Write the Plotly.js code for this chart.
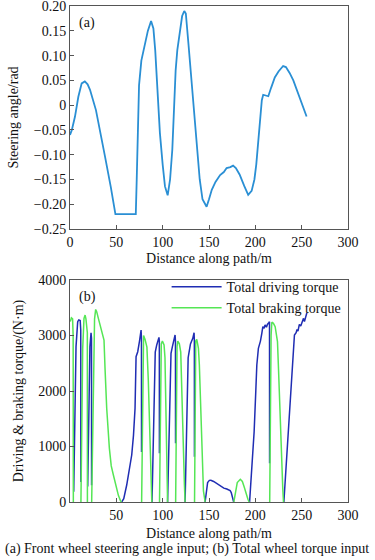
<!DOCTYPE html>
<html>
<head>
<meta charset="utf-8">
<script src="https://cdn.plot.ly/plotly-3.0.1.min.js"></script>
<style>html,body{margin:0;padding:0;background:#fff;}#chart{width:375px;height:560px;}</style>
</head>
<body>
<div id="chart"></div>
<script>
// (a) Front wheel steering angle vs distance
var distA = [0, 2, 5.4, 9, 12.6, 16, 19, 21.6, 28, 33, 37.8, 44, 49, 60, 71, 72, 73, 74.5, 77, 81, 84, 87.5, 90, 92, 94, 97, 100, 102.5, 105.4, 108, 110.4, 112.2, 114, 115.8, 119, 121, 123.3, 125, 128, 131, 133, 137, 140, 143, 147.4, 150, 153, 157, 162, 166, 169, 173, 176, 179, 183, 188, 192.3, 196, 199, 201, 203, 205, 207, 208.5, 211, 214, 217, 221, 225, 230, 233, 237, 241, 246, 251, 255.3];
var steerA = [-0.06, -0.05, -0.023, 0.017, 0.044, 0.048, 0.042, 0.031, -0.01, -0.055, -0.104, -0.165, -0.22, -0.22, -0.22, -0.15, -0.05, 0.04, 0.09, 0.125, 0.15, 0.17, 0.155, 0.11, 0.04, -0.056, -0.12, -0.164, -0.182, -0.15, -0.09, 0.01, 0.07, 0.111, 0.16, 0.18, 0.19, 0.185, 0.12, 0.05, 0.01, -0.085, -0.15, -0.19, -0.205, -0.19, -0.171, -0.155, -0.141, -0.135, -0.127, -0.125, -0.122, -0.127, -0.14, -0.163, -0.181, -0.173, -0.15, -0.12, -0.08, -0.03, 0.01, 0.021, 0.02, 0.018, 0.035, 0.056, 0.068, 0.079, 0.077, 0.065, 0.05, 0.025, 0.0, -0.023];

// (b) Total driving torque (null = gap)
var driveD = [4, 5.5, 6.5, 8.3, 9.5, 11, 11.6, 11.7, null,
  19.1, 20.5, 21.5, 22.7, 23.2, 23.3, null,
  55.8, 58, 61.2, 64, 66.6, 68.5, 70.2, 71.3, 73.1, 75, 76.7, 77.1, 77.2, null,
  88.5, 90, 91.5, 92, 93.6, 95, 96, 96.4, 96.5, null,
  105.3, 107, 108.5, 109, 110.5, 112.5, 113.4, 113.8, 113.9, null,
  124.2, 126, 127.5, 128.5, 130, 132.5, 133.9, 134.2, 134.3, null,
  145.8, 147, 148.5, 150.4, 152, 155, 158.4, 163, 166, 169.2, 171, 172.8, 174, 175.5, 176.6, null,
  193.8, 196, 198.7, 200.5, 201.6, 203.3, 205.5, 207, 208.1, 209.5, 210.5, 212, 213, 214.5, 215.3, 215.4, null,
  230.8, 233, 235.5, 237.6, 240, 242.2, 244, 245, 246, 247.5, 249, 250.5, 252, 253, 254.5, 255.6];
var driveT = [186, 1800, 2800, 3250, 3280, 3270, 3100, 360, null,
  280, 1800, 2800, 3050, 2950, 300, null,
  0, 60, 306, 560, 847, 1200, 1688, 2618, 2708, 2900, 3099, 2950, 900, null,
  0, 1200, 2500, 2700, 2830, 2900, 2967, 2900, 880, null,
  0, 1300, 2500, 2680, 2800, 2950, 3009, 2900, 1057, null,
  0, 1300, 2600, 2700, 2850, 2950, 3051, 2900, 817, null,
  0, 200, 350, 390, 392, 370, 336, 280, 250, 234, 222, 204, 170, 80, 0, null,
  0, 500, 1267, 2000, 2468, 2769, 2900, 3040, 3159, 3130, 3190, 3150, 3200, 3230, 3250, 700, null,
  0, 600, 1300, 1868, 2500, 3009, 3050, 3110, 3080, 3200, 3170, 3260, 3310, 3250, 3360, 3410];

// (b) Total braking torque (null = gap)
var brakeD = [0.3, 1.5, 2.8, 3.4, 3.6, null,
  11.8, 12.6, 13.7, 15.1, 16.3, 17.2, 18, 18.7, 18.8, null,
  23.4, 24.5, 25.5, 26.5, 27.7, 28.8, 30.6, 32.5, 34.2, 36.7, 37.8, 39.6, 42.5, 44.5, 46.8, 49.5, 52.2, 54.5, 55.5, null,
  77.3, 78.3, 79, 79.4, 81, 83, 84.5, 86, 87.3, 88.3, null,
  96.6, 97.5, 98.5, 99.7, 101.5, 102.5, 103.5, 104.5, 105.3, null,
  114, 114.8, 115.5, 116.3, 118, 119.5, 120.5, 122, 123.5, 124.2, null,
  134.4, 135.2, 135.7, 136.8, 138.6, 139.6, 141, 142.5, 144, 145.8, null,
  176.8, 178.5, 180.5, 183.8, 186, 188, 190, 192, 193.4, null,
  215.5, 216.3, 217, 217.8, 219.5, 221.4, 222.5, 223.9, 225, 226, 227.3, 228.6, 229.6, 230.4];
var brakeT = [3250, 3320, 3300, 3000, 0, null,
  0, 1267, 2769, 3309, 3369, 3300, 3189, 3050, 0, null,
  0, 1500, 2800, 3300, 3470, 3430, 3309, 3200, 3099, 2919, 2408, 1688, 967, 650, 486, 280, 120, 20, 0, null,
  0, 2000, 2900, 3000, 2930, 2790, 2200, 1300, 500, 0, null,
  0, 2000, 2850, 2901, 2830, 2600, 1800, 900, 0, null,
  0, 2000, 2800, 2901, 2850, 2700, 2000, 1000, 300, 0, null,
  0, 2000, 2900, 2930, 2769, 2468, 1700, 800, 200, 0, null,
  0, 200, 350, 409, 370, 270, 150, 50, 0, null,
  0, 2000, 3000, 3240, 3220, 3159, 3050, 2889, 2400, 1868, 1200, 667, 250, 0];

var xTicksA = [0, 50, 100, 150, 200, 250, 300];
var xTicksB = [50, 100, 150, 200, 250, 300];
var yTicksA = [-0.25, -0.20, -0.15, -0.10, -0.05, 0, 0.05, 0.10, 0.15, 0.20];
var yTextA = ['\u22120.25', '\u22120.20', '\u22120.15', '\u22120.10', '\u22120.05', '0', '0.05', '0.10', '0.15', '0.20'];
var yTicksB = [0, 1000, 2000, 3000, 4000];
var yTextB = ['0', '1000', '2000', '3000', '4000'];

var FONT = 'Liberation Serif, Times New Roman, serif';
var frame = '#555555';

var traces = [
  {x: distA, y: steerA, xaxis: 'x', yaxis: 'y', type: 'scatter', mode: 'lines',
   line: {color: '#2a8fd4', width: 1.8}, showlegend: false, name: 'Steering angle'},
  {x: driveD, y: driveT, xaxis: 'x2', yaxis: 'y2', type: 'scatter', mode: 'lines',
   line: {color: '#1f2db3', width: 1.5}, name: 'Total driving torque', connectgaps: false},
  {x: brakeD, y: brakeT, xaxis: 'x2', yaxis: 'y2', type: 'scatter', mode: 'lines',
   line: {color: '#55e655', width: 1.5}, name: 'Total braking torque', connectgaps: false}
];

function axX(ticks, title, standoff) {
  return {range: [0, 300], tickvals: ticks, ticktext: ticks.map(String), ticks: 'inside', ticklen: 4,
    tickcolor: frame, showline: true, mirror: true, linecolor: frame, linewidth: 1,
    showgrid: false, zeroline: false, ticklabeloverflow: 'allow',
    tickfont: {family: FONT, size: 14, color: '#111'},
    title: {text: title, font: {family: FONT, size: 14, color: '#111'}, standoff: standoff}};
}
function axY(ticks, text, range, title, domain) {
  return {domain: domain, range: range, tickvals: ticks, ticktext: text, ticks: 'inside', ticklen: 4,
    tickcolor: frame, showline: true, mirror: true, linecolor: frame, linewidth: 1,
    showgrid: false, zeroline: false, ticklabeloverflow: 'allow',
    tickfont: {family: FONT, size: 14, color: '#111'},
    title: {text: title, font: {family: FONT, size: 14, color: '#111'}, standoff: 11}};
}

var xa = axX(xTicksA, 'Distance along path/m', 4); xa.anchor = 'y'; xa.domain = [0, 1];
var xb = axX(xTicksB, 'Distance along path/m', 6); xb.anchor = 'y2'; xb.domain = [0, 1];
var ya = axY(yTicksA, yTextA, [-0.25, 0.2002], 'Steering angle/rad', [0.5504, 1]); ya.anchor = 'x';
var yb = axY(yTicksB, yTextB, [0, 4001], 'Driving &amp; braking torque/(N\u00b7m)', [0, 0.4476]); yb.anchor = 'x2';

var layout = {
  width: 375, height: 560,
  margin: {l: 70, r: 27, t: 6, b: 58},
  paper_bgcolor: '#ffffff', plot_bgcolor: '#ffffff',
  font: {family: FONT, size: 14, color: '#111'},
  xaxis: xa, yaxis: ya, xaxis2: xb, yaxis2: yb,
  showlegend: true,
  legend: {x: 0.995, xanchor: 'right', y: 0.4656, yanchor: 'top', bgcolor: 'rgba(0,0,0,0)',
    borderwidth: 0, itemwidth: 50, font: {family: FONT, size: 14, color: '#111'}, tracegroupgap: 0},
  annotations: [
    {text: '(a)', xref: 'paper', yref: 'paper', x: 0.025, y: 0.9657, xanchor: 'left', yanchor: 'middle',
     showarrow: false, font: {family: FONT, size: 14, color: '#111'}},
    {text: '(b)', xref: 'paper', yref: 'paper', x: 0.025, y: 0.4133, xanchor: 'left', yanchor: 'middle',
     showarrow: false, font: {family: FONT, size: 14, color: '#111'}},
    {text: '(a) Front wheel steering angle input; (b) Total wheel torque input', xref: 'paper', yref: 'paper',
     x: 0.421, y: -0.0948, xanchor: 'center', yanchor: 'middle', showarrow: false,
     font: {family: FONT, size: 14, color: '#111'}}
  ]
};

Plotly.newPlot('chart', traces, layout, {displayModeBar: false, staticPlot: true});
</script>
</body>
</html>
